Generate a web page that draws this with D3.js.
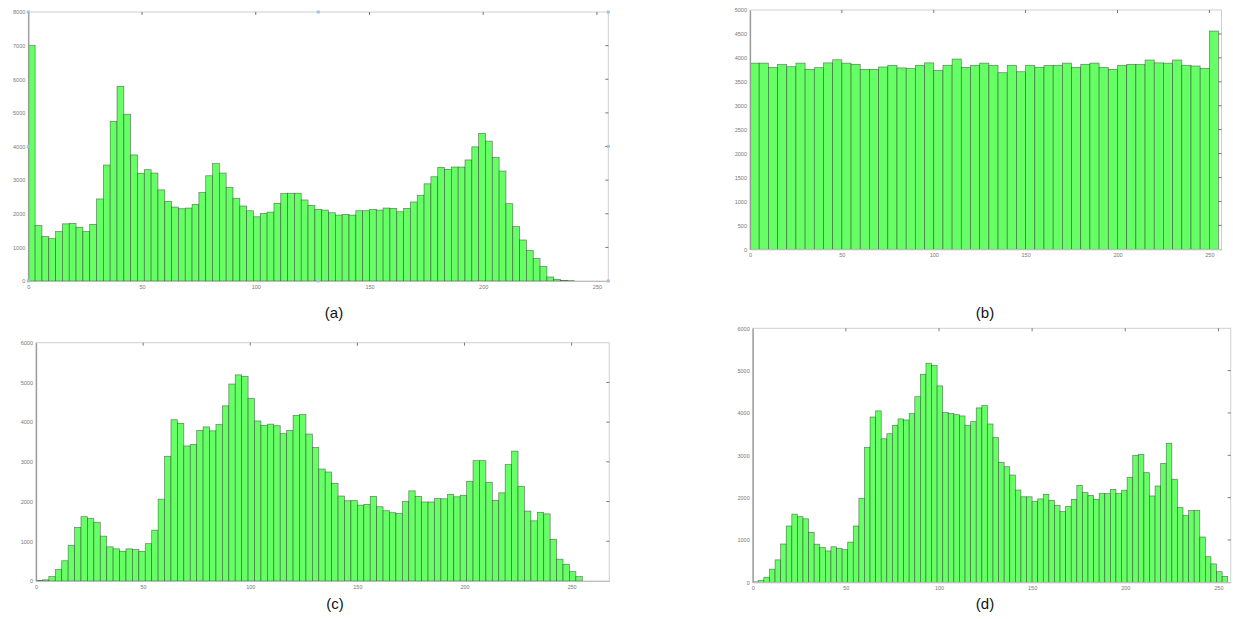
<!DOCTYPE html>
<html>
<head>
<meta charset="utf-8">
<script src="https://cdn.jsdelivr.net/npm/d3@7"></script>
<style>
  body { margin: 0; background: #fff; }
  svg { display: block; }
  .tick text { font-family: "Liberation Sans", Arial, sans-serif; }
</style>
</head>
<body>
<svg id="chart" width="1233" height="619"></svg>
<script>
// histogram counts, one value per bin
var histA = [7000,1650,1320,1260,1470,1700,1715,1600,1470,1685,
	2440,3450,4750,5790,4960,3750,3200,3310,3210,2710,
	2370,2200,2150,2170,2280,2630,3130,3490,3210,2780,
	2460,2230,2090,1910,2010,2050,2310,2600,2610,2610,
	2410,2250,2130,2110,2030,1960,1980,1960,2090,2090,
	2130,2110,2170,2160,2060,2160,2350,2550,2890,3100,
	3380,3320,3390,3390,3600,3990,4390,4160,3670,3270,
	2300,1620,1220,910,670,430,120,50,20,10,
	0,0,0,0,0];
var histB = [3890,3890,3800,3860,3815,3890,3760,3795,3895,3960,
	3890,3865,3760,3760,3810,3845,3790,3775,3845,3895,
	3735,3845,3975,3800,3845,3890,3845,3690,3845,3710,
	3845,3800,3840,3845,3890,3800,3865,3890,3800,3760,
	3845,3865,3860,3955,3895,3890,3955,3845,3830,3780,
	4560];
var histC = [10,30,110,290,510,900,1350,1620,1570,1480,
	1130,860,810,750,810,790,745,940,1280,2060,
	3140,4060,3970,3400,3440,3790,3880,3780,3940,4410,
	4960,5190,5150,4600,4030,3920,3950,3910,3710,3790,
	4170,4190,3700,3360,2820,2745,2460,2140,2020,2025,
	1910,1930,2130,1870,1770,1720,1700,2000,2270,2130,
	1990,1990,2075,2070,2180,2120,2160,2510,3030,3030,
	2485,2030,2220,2930,3270,2385,1760,1515,1730,1690,
	1050,550,420,235,110];
var histD = [10,40,120,310,530,905,1330,1610,1550,1500,
	1180,900,820,740,840,800,770,950,1330,1985,
	3190,3905,4050,3390,3510,3710,3860,3835,3985,4385,
	4915,5175,5120,4640,4010,3990,3960,3930,3710,3795,
	4120,4175,3740,3420,2835,2730,2535,2180,2020,2020,
	1905,1970,2080,1935,1820,1670,1795,1960,2290,2120,
	2055,1960,2095,2095,2195,2095,2175,2480,3000,3025,
	2590,2040,2275,2810,3285,2435,1765,1575,1695,1695,
	1070,605,435,250,140];

var binWidths = [3, 5, 3, 3];
var captions = ["(a)", "(b)", "(c)", "(d)"];
var xTicks = [0, 50, 100, 150, 200, 250];
var yTicksA = [0,1000,2000,3000,4000,5000,6000,7000,8000];
var yTicksB = [0,500,1000,1500,2000,2500,3000,3500,4000,4500,5000];
var yTicksCD = [0,1000,2000,3000,4000,5000,6000];

// panel frames (pixels) and axis ranges
var panels = [
	{ data: histA, bin: binWidths[0], yTicks: yTicksA, xMax: 255, left: 28.3, right: 608.3, top: 12, bottom: 281, cap: captions[0], capX: 334, capY: 318, handles: true },
	{ data: histB, bin: binWidths[1], yTicks: yTicksB, xMax: 256.6, left: 750, right: 1221.5, top: 10, bottom: 249.3, cap: captions[1], capX: 985, capY: 318 },
	{ data: histC, bin: binWidths[2], yTicks: yTicksCD, xMax: 267.6, left: 36, right: 609.3, top: 342.7, bottom: 581, cap: captions[2], capX: 335, capY: 609 },
	{ data: histD, bin: binWidths[3], yTicks: yTicksCD, xMax: 256.6, left: 752.7, right: 1230.7, top: 328.3, bottom: 582.3, cap: captions[3], capX: 985, capY: 609 }
];

var svg = d3.select("#chart");

function drawHist(p) {
	var x = d3.scaleLinear().domain([0, p.xMax]).range([p.left, p.right]);
	var yMax = p.yTicks[p.yTicks.length - 1];
	var y = d3.scaleLinear().domain([0, yMax]).range([p.bottom, p.top]);
	var g = svg.append("g");

	var clipId = "clip" + p.cap.replace(/\W/g, "");
	g.append("clipPath").attr("id", clipId)
		.append("rect")
		.attr("x", p.left).attr("y", p.top)
		.attr("width", p.right - p.left).attr("height", p.bottom - p.top);

	// frame
	g.append("rect")
		.attr("x", p.left).attr("y", p.top)
		.attr("width", p.right - p.left).attr("height", p.bottom - p.top)
		.attr("fill", "none").attr("stroke", "#cfcfcf").attr("stroke-width", 1);

	g.append("g").attr("clip-path", "url(#" + clipId + ")")
		.selectAll("rect")
		.data(p.data)
		.enter().append("rect")
		.attr("x", function(d, i) { return x(i * p.bin); })
		.attr("width", function(d, i) { return x((i + 1) * p.bin) - x(i * p.bin); })
		.attr("y", function(d) { return y(d); })
		.attr("height", function(d) { return y(0) - y(d); })
		.attr("fill", "#66ff66")
		.attr("stroke", "#1c1c1c")
		.attr("stroke-opacity", 0.55)
		.attr("stroke-width", 0.7);

	var fmt = d3.format("d");

	// left axis
	var ya = g.append("g").attr("transform", "translate(" + p.left + ",0)")
		.call(d3.axisLeft(y).tickValues(p.yTicks).tickFormat(fmt).tickSize(0).tickPadding(3));
	ya.select(".domain").attr("stroke", "#9a9a9a").attr("stroke-width", 1.3);
	ya.selectAll("text").attr("font-size", 5.5).attr("fill", "#777");

	// bottom axis
	var xa = g.append("g").attr("transform", "translate(0," + p.bottom + ")")
		.call(d3.axisBottom(x).tickValues(xTicks).tickFormat(fmt).tickSize(0).tickPadding(4));
	xa.select(".domain").attr("stroke", "#bdbdbd");
	xa.selectAll("text").attr("font-size", 5.5).attr("fill", "#777");

	// mirrored ticks on top and right
	g.append("g").selectAll("line")
		.data(xTicks.slice(1).filter(function(v) { return x(v) < p.right - 2; }))
		.enter().append("line")
		.attr("x1", function(v) { return x(v); }).attr("x2", function(v) { return x(v); })
		.attr("y1", p.top).attr("y2", p.top + 3)
		.attr("stroke", "#555").attr("stroke-width", 0.8);
	g.append("g").selectAll("line")
		.data(p.yTicks.slice(1, -1))
		.enter().append("line")
		.attr("x1", p.right).attr("x2", p.right - 3)
		.attr("y1", function(v) { return y(v); }).attr("y2", function(v) { return y(v); })
		.attr("stroke", "#555").attr("stroke-width", 0.8);

	if (p.handles) {
		var mx = (p.left + p.right) / 2, my = (p.top + p.bottom) / 2;
		var pts = [[p.left, p.top], [mx, p.top], [p.right, p.top], [p.left, my],
			[p.right, my], [p.left, p.bottom], [mx, p.bottom], [p.right, p.bottom]];
		g.append("g").selectAll("rect")
			.data(pts)
			.enter().append("rect")
			.attr("x", function(d) { return d[0] - 1.5; })
			.attr("y", function(d) { return d[1] - 1.5; })
			.attr("width", 3).attr("height", 3)
			.attr("fill", "#9cc3ea");
	}

	svg.append("text")
		.attr("x", p.capX).attr("y", p.capY)
		.attr("text-anchor", "middle")
		.attr("font-family", "Liberation Sans, Arial, sans-serif")
		.attr("font-size", 15)
		.attr("fill", "#111")
		.text(p.cap);
}

panels.forEach(drawHist);
</script>
</body>
</html>
